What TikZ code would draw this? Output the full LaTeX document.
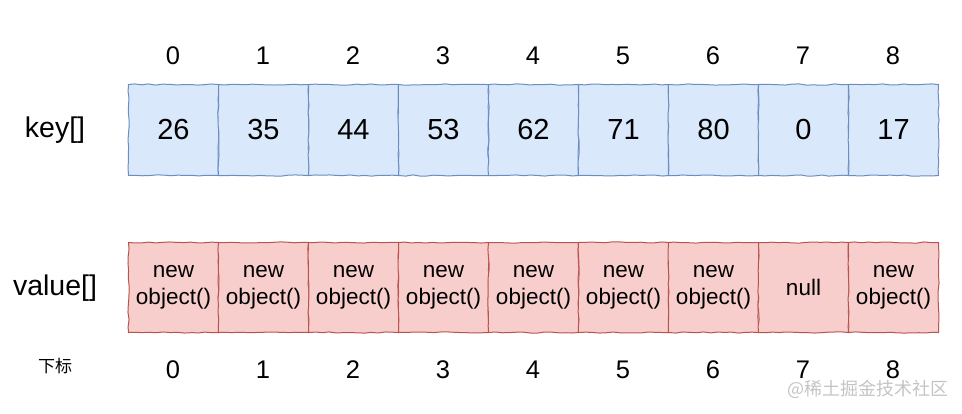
\documentclass[tikz,border=0pt]{standalone}
\usepackage{fontspec}
\setmainfont{Liberation Sans}
\newfontfamily\cjk{Noto Sans CJK SC}
\usetikzlibrary{decorations.pathmorphing}
\definecolor{kfill}{HTML}{DAE8FC}
\definecolor{kline}{HTML}{6C8EBF}
\definecolor{vfill}{HTML}{F8CECC}
\definecolor{vline}{HTML}{B85450}
\definecolor{wmark}{HTML}{C4C4C4}
\pgfmathsetseed{7}
\tikzset{
  sketchy/.style={decorate, decoration={random steps, segment length=7pt, amplitude=0.6pt}},
  keycell/.style={sketchy, draw=kline, fill=kfill, line width=1pt, minimum width=90pt, minimum height=91pt, inner sep=0pt, anchor=north west, font=\fontsize{29}{34}\selectfont},
  valcell/.style={sketchy, draw=vline, fill=vfill, line width=1pt, minimum width=90pt, minimum height=90pt, inner sep=0pt, anchor=north west, align=center, font=\fontsize{22.5}{27}\selectfont},
  idx/.style={font=\fontsize{25.5}{30}\selectfont, inner sep=0pt},
  rowlabel/.style={font=\fontsize{28.5}{32}\selectfont, inner sep=0pt},
}
\begin{document}
\begin{tikzpicture}[x=1pt, y=-1pt]
\useasboundingbox (0,0) rectangle (962,413);
% key cells
\foreach \v [count=\i from 0] in {26,35,44,53,62,71,80,0,17} {
  \node[keycell] (k\i) at (128+90*\i, 84) {\v};
  \node[idx] (t\i) at (173+90*\i, 56) {\i};
}
% value cells
\foreach \v [count=\i from 0] in {new\\object(),new\\object(),new\\object(),new\\object(),new\\object(),new\\object(),new\\object(),null,new\\object()} {
  \node[valcell] (v\i) at (128+90*\i, 242) {\v};
  \node[idx] (b\i) at (173+90*\i, 370) {\i};
}
\node[rowlabel] (keylbl) at (55,130) {key[]};
\node[rowlabel] (vallbl) at (55,288) {value[]};
\node[font=\cjk\fontsize{17}{20}\selectfont, inner sep=0pt] (sub) at (55,366) {下标};
\node[font=\cjk\fontsize{18}{21}\selectfont, text=wmark, inner sep=0pt] (wm) at (868,389) {@稀土掘金技术社区};
\end{tikzpicture}
\end{document}
